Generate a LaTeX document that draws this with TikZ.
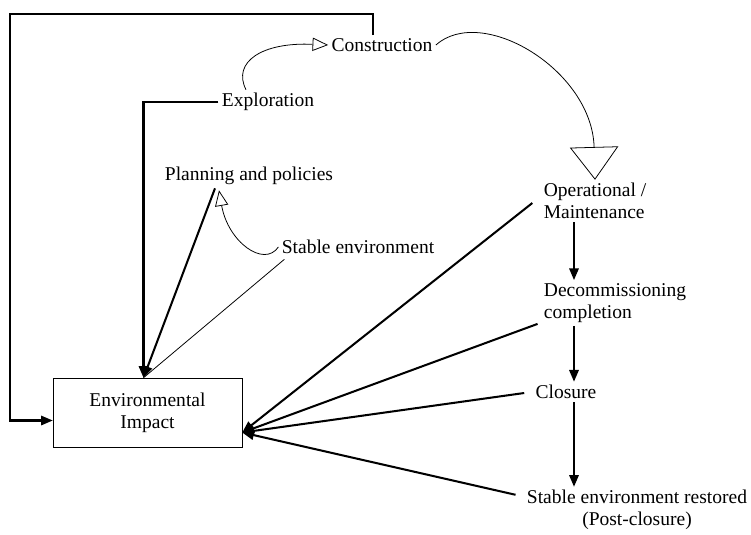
\documentclass[tikz,border=0pt]{standalone}
\usepackage{fontspec}
\setmainfont{Liberation Serif}
\usetikzlibrary{arrows.meta,calc}
\tikzset{
  lbl/.style={font=\fontsize{12.5}{14}\selectfont,inner sep=2pt,align=left},
  impact/.style={lbl,draw,align=center,minimum width=4.25cm,minimum height=1.55cm},
  bold/.style={line width=1.3pt},
  feed/.style={bold,-{Triangle[length=7.5pt,width=6pt]}},
  slim/.style={line width=0.5pt},
  hop/.style={line width=0.5pt,-{Triangle[open,length=10pt,width=8.5pt]}},
}
\begin{document}
\begin{tikzpicture}[x=0.0225cm,y=-0.0225cm]
  \useasboundingbox (0,0) rectangle (751,534);
  % nodes
  \node[impact] (env) at (147.5,412.5) {Environmental\\Impact};
  \node[lbl] (expl) at (268,102) {Exploration};
  \node[lbl] (cons) at (382,45) {Construction};
  \node[lbl] (plan) at (249,176) {Planning and policies};
  \node[lbl] (stab) at (358,247) {Stable environment};
  \node[lbl] (oper) at (595,201) {Operational /\\Maintenance};
  \node[lbl] (decom) at (615,303) {Decommissioning\\completion};
  \node[lbl] (clos) at (566,392) {Closure};
  \node[lbl,align=center] (rest) at (637,510) {Stable environment restored\\(Post-closure)};
  % meeting points
  \coordinate (top) at ($(env.north)+(-4,0)$);
  \coordinate (rt) at ($(env.east)+(0,20)$);
  \coordinate (corner) at (10,14);
  \coordinate (col) at (574,0);
  % outer loop
  \draw[feed] ($(cons.north)+(-9,0)$) |- (corner) |- ($(env.west)+(0,8)$);
  % left group
  \draw[feed] (expl.west) -| (top);
  \draw[feed] ($(plan.south)+(-34,0)$) -- (top);
  \draw[slim] ($(stab.south west)+(6,2)$) -- (top);
  \draw[hop] (stab.west) .. controls (264,268) and (228,242) .. ($(plan.south)+(-30,2)$);
  \draw[hop] ($(expl.north)+(-22,0)$) .. controls (232,62) and (262,42) .. (cons.west);
  \draw[slim,-{Triangle[open,length=21pt,width=31pt]}] (cons.east) .. controls (482,4) and (592,70) .. (oper.north);
  % right group
  \draw[feed] ($(oper.west)+(-8,2)$) -- (rt);
  \draw[feed] ($(decom.south west)+(-3,-2)$) -- (rt);
  \draw[feed] ($(clos.west)+(-8,1)$) -- (rt);
  \draw[feed] ($(rest.north west)+(-8,8)$) -- (rt);
  \draw[feed] (oper.south -| col) -- (decom.north -| col);
  \draw[feed] (decom.south -| col) -- (clos.north -| col);
  \draw[feed] (clos.south -| col) -- (rest.north -| col);
\end{tikzpicture}
\end{document}
